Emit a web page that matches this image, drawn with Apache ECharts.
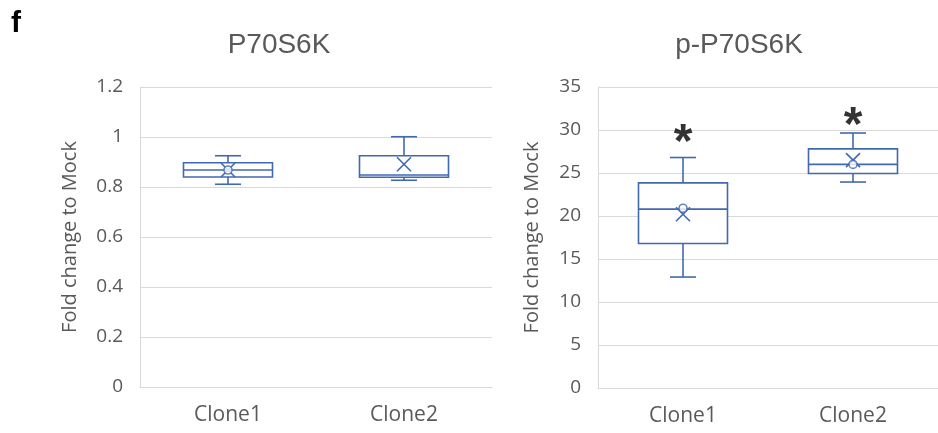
<!DOCTYPE html>
<html>
<head>
<meta charset="utf-8">
<script src="https://cdn.jsdelivr.net/npm/echarts@6/dist/echarts.min.js"></script>
<style>
  html, body { margin: 0; padding: 0; background: #fff; }
  #chart-container { width: 938px; height: 433px; }
</style>
</head>
<body>
<div id="chart-container"></div>
<script>
// categories
var categories = ['Clone1', 'Clone2'];

// P70S6K (left panel)
var p70Min = [0.811, 0.827];
var p70Q1 = [0.840, 0.839];
var p70Median = [0.868, 0.848];
var p70Q3 = [0.897, 0.925];
var p70Max = [0.925, 1.001];
var p70Mean = [0.868, 0.891];
var p70Inner = [0.868, null];

// p-P70S6K (right panel)
var pp70Min = [12.9, 23.95];
var pp70Q1 = [16.8, 24.95];
var pp70Median = [20.8, 26.0];
var pp70Q3 = [23.85, 27.8];
var pp70Max = [26.8, 29.65];
var pp70Mean = [20.2, 26.5];
var pp70Inner = [20.9, 26.0];
var pp70Star = [29.6, 31.5];

// tick settings
var p70Ticks = { min: 0, max: 1.2, interval: 0.2 };
var pp70Ticks = { min: 0, max: 35, interval: 5 };

var blue = '#4169b0';
var gray = '#595959';
var gridGray = '#d9d9d9';
var font = '"Open Sans", sans-serif';

function boxRows(mn, q1, md, q3, mx, mean) {
	return categories.map(function (c, i) {
		return [i, mn[i], q1[i], md[i], q3[i], mx[i], mean[i]];
	});
}

function renderBox(params, api) {
	var x = api.value(0);
	var pMin = api.coord([x, api.value(1)]);
	var pQ1 = api.coord([x, api.value(2)]);
	var pMed = api.coord([x, api.value(3)]);
	var pQ3 = api.coord([x, api.value(4)]);
	var pMax = api.coord([x, api.value(5)]);
	var pMean = api.coord([x, api.value(6)]);
	var half = 44.5;
	var cap = 13;
	var m = 7;
	var cx = pMed[0];
	var st = { stroke: blue, lineWidth: 1.6, fill: null };
	return {
		type: 'group',
		children: [
			{ type: 'rect', shape: { x: cx - half, y: pQ3[1], width: half * 2, height: pQ1[1] - pQ3[1] }, style: { stroke: blue, lineWidth: 1.6, fill: '#fff' } },
			{ type: 'line', shape: { x1: cx - half, y1: pMed[1], x2: cx + half, y2: pMed[1] }, style: st },
			{ type: 'line', shape: { x1: cx, y1: pQ3[1], x2: cx, y2: pMax[1] }, style: st },
			{ type: 'line', shape: { x1: cx, y1: pQ1[1], x2: cx, y2: pMin[1] }, style: st },
			{ type: 'line', shape: { x1: cx - cap, y1: pMax[1], x2: cx + cap, y2: pMax[1] }, style: st },
			{ type: 'line', shape: { x1: cx - cap, y1: pMin[1], x2: cx + cap, y2: pMin[1] }, style: st },
			{ type: 'line', shape: { x1: cx - m, y1: pMean[1] - m, x2: cx + m, y2: pMean[1] + m }, style: st },
			{ type: 'line', shape: { x1: cx - m, y1: pMean[1] + m, x2: cx + m, y2: pMean[1] - m }, style: st }
		]
	};
}

function pointRows(vals) {
	var out = [];
	vals.forEach(function (v, i) { if (v != null) out.push([i, v]); });
	return out;
}

function yAxisFor(idx, ticks) {
	return {
		type: 'value',
		gridIndex: idx,
		min: ticks.min,
		max: ticks.max,
		interval: ticks.interval,
		name: 'Fold change to Mock',
		nameLocation: 'middle',
		nameGap: idx === 0 ? 60 : 56,
		nameTextStyle: { color: gray, fontSize: 20, fontFamily: font },
		axisLine: { show: true, lineStyle: { color: gridGray, width: 1 } },
		axisTick: { show: false },
		axisLabel: { color: gray, fontSize: 19, fontFamily: font, margin: 17 },
		splitLine: { lineStyle: { color: gridGray, width: 1.2 } }
	};
}

function xAxisFor(idx) {
	return {
		type: 'category',
		gridIndex: idx,
		data: categories,
		axisLine: { lineStyle: { color: gridGray, width: 1.2 } },
		axisTick: { show: false },
		axisLabel: { color: gray, fontSize: 21, fontFamily: font, margin: 18 }
	};
}

var chartDom = document.getElementById('chart-container');
var myChart = echarts.init(chartDom);

var option = {
	backgroundColor: '#fff',
	animation: false,
	title: [
		{ text: 'f', left: 6, top: 4, textStyle: { color: '#000', fontSize: 30, fontWeight: 'bold', fontFamily: '"Liberation Sans", sans-serif' } },
		{ text: 'P70S6K', left: 274, top: 26, textAlign: 'center', textStyle: { color: gray, fontSize: 28, fontWeight: 'normal', fontFamily: '"Liberation Sans", sans-serif' } },
		{ text: 'p-P70S6K', left: 734, top: 26, textAlign: 'center', textStyle: { color: gray, fontSize: 28, fontWeight: 'normal', fontFamily: '"Liberation Sans", sans-serif' } }
	],
	grid: [
		{ left: 140, top: 87, width: 352, height: 300 },
		{ left: 598, top: 87, width: 344, height: 301 }
	],
	xAxis: [xAxisFor(0), xAxisFor(1)],
	yAxis: [yAxisFor(0, p70Ticks), yAxisFor(1, pp70Ticks)],
	series: [
		{
			type: 'custom',
			xAxisIndex: 0,
			yAxisIndex: 0,
			renderItem: renderBox,
			data: boxRows(p70Min, p70Q1, p70Median, p70Q3, p70Max, p70Mean)
		},
		{
			type: 'custom',
			xAxisIndex: 1,
			yAxisIndex: 1,
			renderItem: renderBox,
			data: boxRows(pp70Min, pp70Q1, pp70Median, pp70Q3, pp70Max, pp70Mean)
		},
		{
			type: 'scatter',
			xAxisIndex: 0,
			yAxisIndex: 0,
			symbol: 'circle',
			symbolSize: 8,
			itemStyle: { color: '#fff', borderColor: blue, borderWidth: 1.6 },
			data: pointRows(p70Inner)
		},
		{
			type: 'scatter',
			xAxisIndex: 1,
			yAxisIndex: 1,
			symbol: 'circle',
			symbolSize: 8,
			itemStyle: { color: '#fff', borderColor: blue, borderWidth: 1.6 },
			data: pointRows(pp70Inner)
		},
		{
			type: 'scatter',
			xAxisIndex: 1,
			yAxisIndex: 1,
			symbolSize: 0,
			label: {
				show: true,
				position: 'inside',
				formatter: '*',
				color: '#000',
				fontSize: 48,
				fontWeight: 'bold',
				fontFamily: '"Liberation Sans", sans-serif',
				offset: [0, 10]
			},
			data: pointRows(pp70Star)
		}
	]
};

myChart.setOption(option);

window.addEventListener('resize', function () {
	myChart.resize();
});
</script>
</body>
</html>
